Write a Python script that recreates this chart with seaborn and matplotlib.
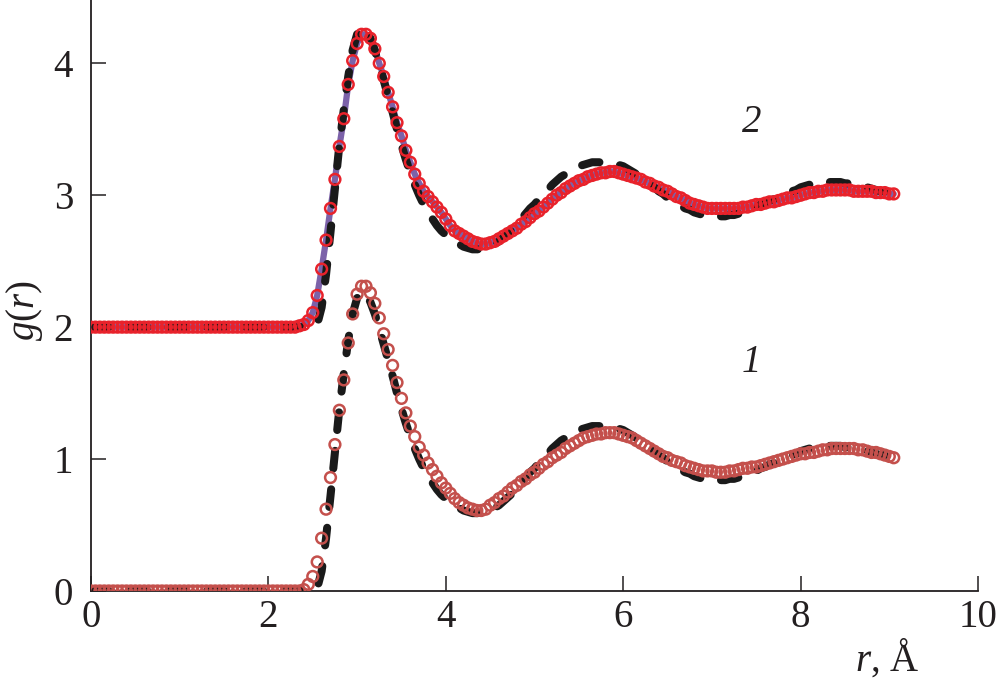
import numpy as np
import pandas as pd
import seaborn as sns
import matplotlib
matplotlib.use("Agg")
import matplotlib.pyplot as plt

# r grid, step 0.05 A
r = np.round(np.arange(0, 182) * 0.05, 2)

# curve 1, open circles
g1 = [0.0] * 48 + [
    0.01, 0.05, 0.11, 0.22, 0.40, 0.62, 0.86, 1.11, 1.37, 1.60,
    1.88, 2.10, 2.25, 2.31, 2.31, 2.26, 2.18, 2.07, 1.95, 1.83,
    1.71, 1.58, 1.46, 1.35, 1.25, 1.17, 1.09, 1.03, 0.97, 0.92,
    0.87, 0.82, 0.78, 0.74, 0.70, 0.67, 0.65, 0.63, 0.62, 0.61,
    0.61, 0.62, 0.65, 0.67, 0.70, 0.72, 0.75, 0.78, 0.80, 0.83,
    0.85, 0.88, 0.90, 0.93, 0.96, 0.98, 1.01, 1.03, 1.05, 1.08,
    1.10, 1.12, 1.14, 1.16, 1.17, 1.18, 1.19, 1.19, 1.20, 1.20,
    1.20, 1.19, 1.18, 1.17, 1.16, 1.14, 1.12, 1.10, 1.08, 1.06,
    1.04, 1.02, 1.01, 0.99, 0.98, 0.97, 0.95, 0.94, 0.93, 0.92,
    0.91, 0.91, 0.91, 0.90, 0.90, 0.90, 0.91, 0.91, 0.92, 0.93,
    0.93, 0.94, 0.94, 0.95, 0.96, 0.97, 0.98, 0.99, 1.00, 1.01,
    1.02, 1.03, 1.04, 1.04, 1.05, 1.05, 1.06, 1.07, 1.07, 1.08,
    1.08, 1.08, 1.08, 1.08, 1.08, 1.07, 1.07, 1.06, 1.05, 1.05,
    1.04, 1.03, 1.02, 1.01]

# curve 2 (drawn shifted up by 2)
g2 = [0.0] * 47 + [
    0.01, 0.02, 0.05, 0.11, 0.24, 0.44, 0.66, 0.90, 1.12, 1.37,
    1.58, 1.84, 2.02, 2.15, 2.22, 2.22, 2.19, 2.11, 2.00, 1.90,
    1.78, 1.67, 1.55, 1.45, 1.34, 1.25, 1.16, 1.09, 1.03, 0.99,
    0.95, 0.91, 0.87, 0.82, 0.77, 0.73, 0.71, 0.69, 0.67, 0.65,
    0.64, 0.63, 0.63, 0.64, 0.65, 0.67, 0.69, 0.71, 0.73, 0.75,
    0.78, 0.80, 0.83, 0.86, 0.88, 0.91, 0.94, 0.97, 1.00, 1.02,
    1.05, 1.07, 1.09, 1.11, 1.12, 1.14, 1.15, 1.16, 1.17, 1.17,
    1.18, 1.18, 1.17, 1.16, 1.15, 1.14, 1.13, 1.12, 1.10, 1.09,
    1.07, 1.06, 1.04, 1.03, 1.01, 0.99, 0.98, 0.96, 0.94, 0.93,
    0.92, 0.91, 0.90, 0.90, 0.90, 0.90, 0.90, 0.90, 0.90, 0.90,
    0.91, 0.91, 0.92, 0.93, 0.93, 0.94, 0.95, 0.95, 0.96, 0.97,
    0.98, 0.98, 0.99, 1.00, 1.01, 1.02, 1.02, 1.03, 1.03, 1.04,
    1.04, 1.04, 1.04, 1.04, 1.04, 1.03, 1.03, 1.03, 1.03, 1.03,
    1.02, 1.02, 1.02, 1.01, 1.01]

# reference curve, black dashes
g_ref = [0.0] * 51 + [
    0.02, 0.15, 0.40, 0.72, 1.05, 1.38, 1.65, 1.90, 2.10, 2.22,
    2.27, 2.25, 2.19, 2.10, 1.99, 1.87, 1.75, 1.63, 1.50, 1.38,
    1.27, 1.17, 1.08, 1.00, 0.93, 0.87, 0.82, 0.77, 0.73, 0.70,
    0.67, 0.65, 0.63, 0.61, 0.60, 0.59, 0.59, 0.59, 0.60, 0.61,
    0.63, 0.65, 0.68, 0.71, 0.74, 0.78, 0.82, 0.86, 0.90, 0.93,
    0.97, 1.01, 1.04, 1.08, 1.11, 1.14, 1.16, 1.18, 1.20, 1.22,
    1.23, 1.24, 1.25, 1.25, 1.25, 1.25, 1.25, 1.24, 1.23, 1.22,
    1.20, 1.18, 1.16, 1.13, 1.11, 1.08, 1.06, 1.03, 1.01, 0.98,
    0.96, 0.94, 0.92, 0.90, 0.89, 0.87, 0.86, 0.85, 0.85, 0.84,
    0.84, 0.84, 0.84, 0.85, 0.85, 0.86, 0.87, 0.88, 0.90, 0.91,
    0.93, 0.94, 0.96, 0.97, 0.99, 1.00, 1.02, 1.03, 1.04, 1.06,
    1.07, 1.08, 1.08, 1.09, 1.09, 1.10, 1.10, 1.10, 1.10, 1.09,
    1.09, 1.08, 1.08, 1.07, 1.06, 1.05, 1.04, 1.03, 1.03, 1.02,
    1.02]

offset = 2
xticks = [0, 2, 4, 6, 8, 10]
yticks = [0, 1, 2, 3, 4]

df = pd.DataFrame({"r": r, "g1": g1, "g2": np.array(g2) + offset,
                   "ref1": g_ref, "ref2": np.array(g_ref) + offset})

sns.set_theme(style="ticks")
plt.rcParams["font.family"] = ["Liberation Serif", "DejaVu Serif"]
plt.rcParams["mathtext.fontset"] = "custom"
plt.rcParams["mathtext.rm"] = "Liberation Serif"
plt.rcParams["mathtext.it"] = "Liberation Serif:italic"

fig = plt.figure(figsize=(10, 6.92), dpi=100)
ax = fig.add_axes([0.091, 0.146, 0.887, 0.854])

dash = dict(color="#1a1a1a", linewidth=5.8, dash_capstyle="round",
            linestyle=(0, (2.2, 2.6)), sort=False, estimator=None)

# curve 1
sns.lineplot(data=df, x="r", y="ref1", ax=ax, zorder=3, **dash)
sns.scatterplot(data=df, x="r", y="g1", ax=ax, marker="o", s=60,
                facecolor="none", edgecolor="#c4504c", linewidth=1.8, zorder=4)

# curve 2
sns.lineplot(data=df, x="r", y="g2", ax=ax, color="#7c62a9", linewidth=4.5,
             sort=False, estimator=None, zorder=2)
sns.lineplot(data=df, x="r", y="ref2", ax=ax, zorder=3, **dash)
sns.scatterplot(data=df, x="r", y="g2", ax=ax, marker="o", s=60,
                facecolor="none", edgecolor="#e8222b", linewidth=1.8, zorder=4)

ax.set_xlim(0, 10)
ax.set_ylim(0, 4.48)
ax.set_xticks(xticks)
ax.set_yticks(yticks)
ax.tick_params(direction="in", length=11, width=1.1, labelsize=28, colors="#231f20")
ax.tick_params(axis="x", pad=6)
ax.tick_params(axis="y", pad=13)
for s in ["top", "right"]:
    ax.spines[s].set_visible(False)
for s in ["left", "bottom"]:
    ax.spines[s].set_linewidth(1.3)
    ax.spines[s].set_color("#231f20")

ax.set_ylabel(r"$g(r)$", fontsize=28, color="#231f20")
ax.yaxis.set_label_coords(-0.052, 0.475)
ax.set_xlabel(r"$r$, Å", fontsize=28, color="#231f20")
ax.xaxis.set_label_coords(0.898, -0.078)

ax.text(7.45, 3.55, "2", fontsize=28, style="italic", ha="center", va="center", color="#231f20")
ax.text(7.45, 1.73, "1", fontsize=28, style="italic", ha="center", va="center", color="#231f20")

fig.savefig("out.png", dpi=100)
